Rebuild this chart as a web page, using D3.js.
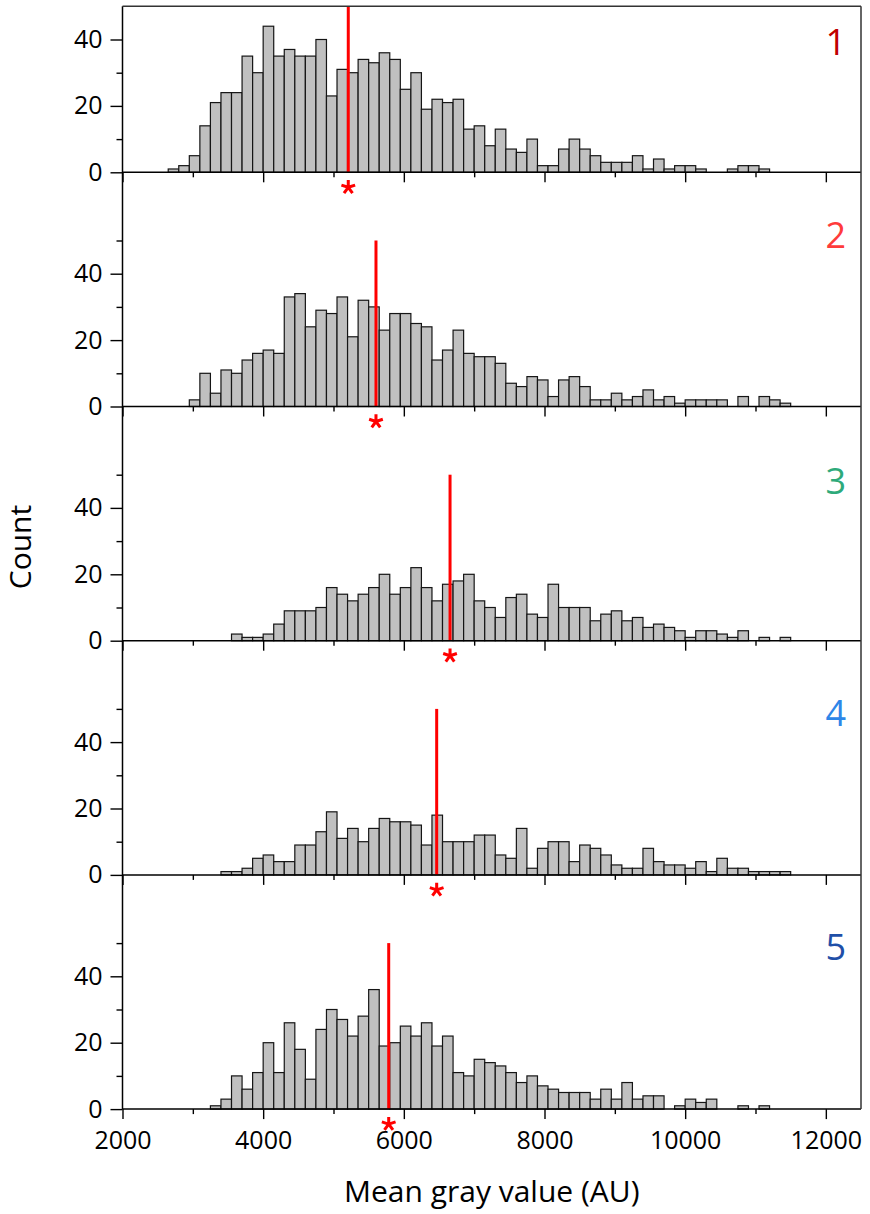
<!DOCTYPE html>
<html>
<head>
<meta charset="utf-8">
<script src="https://cdn.jsdelivr.net/npm/d3@7"></script>
<style>
  body { margin: 0; background: #fff; }
  svg { display: block; }
  text { font-family: "Open Sans", "Liberation Sans", sans-serif; }
</style>
</head>
<body>
<svg id="chart" width="870" height="1214"></svg>
<script>
// Histogram bins: left edge of the first bin and bin width (AU)
const binStart = 2650;
const binWidth = 150;

// Counts per bin, one array per sample
const counts1 = [1,2,5,14,21,24,24,35,30,44,35,37,35,35,40,23,31,30,34,33,36,34,25,30,19,22,21,22,13,14,8,13,7,6,10,2,2,7,10,7,5,3,3,3,5,1,4,1,2,2,1,0,0,1,2,2,1];
const counts2 = [0,0,2,10,4,11,10,14,16,17,16,33,34,24,29,28,33,21,32,30,23,28,28,25,24,14,17,23,16,15,15,13,7,6,9,8,3,8,9,6,2,2,4,2,3,5,2,3,1,2,2,2,2,0,3,0,3,2,1];
const counts3 = [0,0,0,0,0,0,2,1,1,2,5,9,9,9,10,16,14,12,14,16,20,14,16,22,16,12,17,18,20,12,10,7,13,14,8,7,17,10,10,10,6,8,9,6,7,4,5,4,3,1,3,3,2,1,3,0,1,0,1];
const counts4 = [0,0,0,0,0,1,1,2,5,6,4,4,9,9,13,19,11,14,10,14,17,16,16,15,9,18,10,10,10,12,12,6,5,14,2,8,10,10,4,9,8,6,3,2,2,8,4,3,3,2,4,1,5,2,2,1,1,1,1];
const counts5 = [0,0,0,0,1,3,10,6,11,20,11,26,18,9,24,30,27,22,28,36,19,20,25,22,26,19,22,11,10,15,14,13,11,8,10,7,6,5,5,5,3,6,3,8,3,4,4,0,1,3,2,3,0,0,1,0,1];

// Sample names, their label colours and mean gray values (red markers)
const sampleNames = ["1", "2", "3", "4", "5"];
const sampleColors = ["#c00000", "#ff3b3b", "#2eaa7a", "#2e86e8", "#1f4fa8"];
const meanValues = [5210, 5604, 6657, 6467, 5785];

// Axis ticks
const xMajorTicks = [2000, 4000, 6000, 8000, 10000, 12000];
const xMinorTicks = [3000, 5000, 7000, 9000, 11000];
const yMajorTicks = [0, 20, 40];
const yMinorTicks = [10, 30, 50];
const meanLineTop = 50;

const series = [counts1, counts2, counts3, counts4, counts5];

// five-armed asterisk marker placed under each mean line
const asterisk = {
  draw(ctx, size) {
    const r = Math.sqrt(size), w = r * 0.42;
    for (let k = 0; k < 5; k++) {
      const a = -Math.PI / 2 + k * 2 * Math.PI / 5;
      const dx = Math.cos(a), dy = Math.sin(a), nx = -dy * w / 2, ny = dx * w / 2;
      ctx.moveTo(nx, ny);
      ctx.lineTo(dx * r + nx, dy * r + ny);
      ctx.lineTo(dx * r - nx, dy * r - ny);
      ctx.lineTo(-nx, -ny);
      ctx.closePath();
    }
  }
};

// ---- layout ----
const svg = d3.select("#chart");
const left = 122.5, right = 861;
const firstBase = 172.3, panelStep = 234.2, pxPerCount = 3.32;
const frameTop = firstBase - 50 * pxPerCount;
const lastBase = firstBase + 4 * panelStep;
const labelRise = [117, 158.5, 146.7, 149, 149];

const x = d3.scaleLinear().domain([2000, 12500]).range([left, right]);

series.forEach((counts, p) => {
  const base = firstBase + p * panelStep;
  const y = d3.scaleLinear().domain([0, 50]).range([base, base - 50 * pxPerCount]);
  const g = svg.append("g");

  const bins = counts.map((c, i) => ({ x0: binStart + i * binWidth, x1: binStart + (i + 1) * binWidth, c }))
    .filter(d => d.c > 0);

  g.selectAll("rect.bar").data(bins).join("rect")
    .attr("class", "bar")
    .attr("x", d => x(d.x0))
    .attr("width", d => x(d.x1) - x(d.x0))
    .attr("y", d => y(d.c))
    .attr("height", d => y(0) - y(d.c))
    .attr("fill", "#c0c0c0")
    .attr("stroke", "#151515")
    .attr("stroke-width", 1.2);

  // mean marker
  g.append("line")
    .attr("x1", x(meanValues[p])).attr("x2", x(meanValues[p]))
    .attr("y1", y(0)).attr("y2", y(meanLineTop))
    .attr("stroke", "#ff0000").attr("stroke-width", 3);

  // y axis (major + minor)
  const yAxis = g.append("g").attr("transform", `translate(${left},0)`)
    .call(d3.axisLeft(y).tickValues(yMajorTicks).tickSize(12).tickPadding(8).tickFormat(d3.format("d")));
  yAxis.select(".domain").remove();
  yAxis.selectAll("text").attr("font-size", 25).attr("fill", "#000")
    .attr("font-family", "'Open Sans', sans-serif");
  yAxis.selectAll("line").attr("stroke", "#000").attr("stroke-width", 1.4);

  const yMinor = g.append("g").attr("transform", `translate(${left},0)`)
    .call(d3.axisLeft(y).tickValues(yMinorTicks.filter(v => p > 0 || v < 50)).tickSize(6).tickFormat(""));
  yMinor.select(".domain").remove();
  yMinor.selectAll("line").attr("stroke", "#000").attr("stroke-width", 1.4);

  // x axis at the panel baseline
  const isLast = p === series.length - 1;
  const xAxis = g.append("g").attr("transform", `translate(0,${base})`)
    .call(d3.axisBottom(x).tickValues(xMajorTicks).tickSize(10).tickPadding(12)
      .tickFormat(isLast ? d3.format("d") : () => ""));
  xAxis.select(".domain").remove();
  xAxis.selectAll("line").attr("stroke", "#000").attr("stroke-width", 1.4);
  xAxis.selectAll("text").attr("font-size", 25).attr("fill", "#000")
    .attr("font-family", "'Open Sans', sans-serif");

  const xMinor = g.append("g").attr("transform", `translate(0,${base})`)
    .call(d3.axisBottom(x).tickValues(xMinorTicks).tickSize(5).tickFormat(""));
  xMinor.select(".domain").remove();
  xMinor.selectAll("line").attr("stroke", "#000").attr("stroke-width", 1.4);

  g.append("line")
    .attr("x1", left).attr("x2", right).attr("y1", base).attr("y2", base)
    .attr("stroke", "#000").attr("stroke-width", 1.5);

  // asterisk under the mean line
  g.append("path")
    .attr("transform", `translate(${x(meanValues[p])},${base + 15})`)
    .attr("d", d3.symbol().type(asterisk).size(52)())
    .attr("fill", "#ff0000");

  // sample label
  g.append("text")
    .attr("x", 846).attr("y", base - labelRise[p])
    .attr("text-anchor", "end")
    .attr("font-size", 36)
    .attr("fill", sampleColors[p])
    .text(sampleNames[p]);
});

// frame
svg.append("line").attr("x1", left).attr("x2", left).attr("y1", frameTop).attr("y2", lastBase)
  .attr("stroke", "#000").attr("stroke-width", 1.5);
svg.append("line").attr("x1", right).attr("x2", right).attr("y1", frameTop).attr("y2", lastBase)
  .attr("stroke", "#333").attr("stroke-width", 1.5);
svg.append("line").attr("x1", left).attr("x2", right).attr("y1", frameTop).attr("y2", frameTop)
  .attr("stroke", "#333").attr("stroke-width", 1.5);

// axis titles
svg.append("text")
  .attr("x", (left + right) / 2).attr("y", 1202)
  .attr("text-anchor", "middle").attr("font-size", 30).attr("fill", "#000")
  .text("Mean gray value (AU)");
svg.append("text")
  .attr("transform", "translate(31,547) rotate(-90)")
  .attr("text-anchor", "middle").attr("font-size", 30).attr("fill", "#000")
  .text("Count");
</script>
</body>
</html>
